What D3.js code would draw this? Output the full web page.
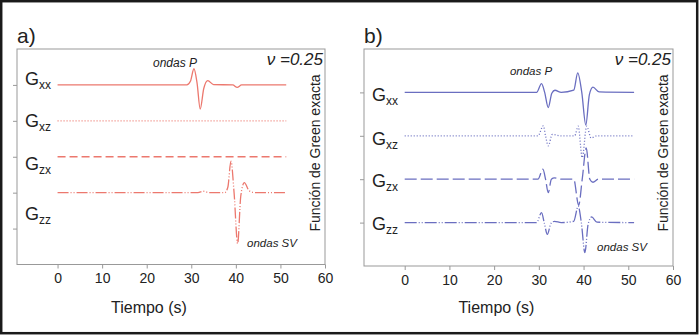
<!DOCTYPE html>
<html>
<head>
<meta charset="utf-8">
<script src="https://cdn.jsdelivr.net/npm/d3@7"></script>
<style>
  body { margin: 0; background: #fff; }
  svg { display: block; font-family: "Liberation Sans", Arial, sans-serif; }
</style>
</head>
<body>
<svg id="chart" width="700" height="336"></svg>
<script>
// time axis (s) and component names
const timeTicks = [0, 10, 20, 30, 40, 50, 60];
const comps = ["xx", "xz", "zx", "zz"];
const nuText = "0.25";

// panel a) – [tiempo, amplitud] key points
const aGxx = [[0,0],[29,0],[29.8,0.1],[30.6,0.45],[31.3,0.05],[32,-0.67],[32.8,-0.1],[33.7,0.12],[35,0.01],[39.3,0],[40.3,-0.07],[41.3,0],[51.3,0]];
const aGxz = [[0,0],[51.3,0]];
const aGzx = [[0,0],[51.3,0]];
const aGzz = [[0,0],[31.5,0],[32.7,0.04],[34,0],[37.5,0],[38.2,0.15],[38.9,0.88],[39.6,0],[40.4,-1.42],[41.1,-0.1],[41.9,0.28],[43,0.05],[44.5,0],[51.3,0]];

// panel b)
const bGxx = [[0,0],[29.5,0],[30.6,0.2],[31.3,0],[32.1,-0.35],[32.9,-0.02],[33.6,0.05],[35,0],[37.8,0.05],[38.7,0.45],[39.6,0],[40.5,-0.75],[41.3,-0.05],[42.1,0.12],[43.5,0.01],[51.3,0]];
const bGxz = [[0,0],[29.8,0],[31,0.23],[31.5,0],[32.1,-0.23],[33,0.03],[35,0],[38,0],[38.8,0.22],[39.7,-0.5],[40.7,0.22],[41.7,-0.05],[43,0],[51.3,0]];
const bGzx = [[0,0],[29.8,0],[30.9,0.23],[31.5,0],[32.1,-0.31],[32.8,0],[33.5,0.03],[35,0],[37.8,0],[38.9,-0.6],[39.7,0],[40.6,0.72],[41.4,0],[42.1,-0.07],[43.3,0],[51.3,0]];
const bGzz = [[0,0],[29.5,0],[30.6,0.23],[31.2,0],[31.9,-0.27],[32.7,-0.02],[33.5,0.03],[35,0],[37.8,0.03],[38.8,0.38],[39.5,0],[40.3,-0.69],[41,-0.05],[41.8,0.13],[43,0.01],[51.3,0]];

var svg = d3.select("#chart");

// outer frame
svg.append("rect")
    .attr("x", 1.2).attr("y", 1.2)
    .attr("width", 696).attr("height", 332)
    .attr("fill", "none").attr("stroke", "#1a1a1a").attr("stroke-width", 2.5);

var panels = [
    {name: "a)", x0: 17, x1: 325, y0: 49, y1: 264.5, nY: 6, color: "#ec786e",
     series: [aGxx, aGxz, aGzx, aGzz],
     dashes: [null, "1,2", "8,4", "11,2,1,2,1,2"],
     gBase: [85, 127, 170, 220],
     pLabel: [175, 67], svLabel: [272, 247], pSize: 12},
    {name: "b)", x0: 364, x1: 673, y0: 49, y1: 266, nY: 5, color: "#6a6ec0",
     series: [bGxx, bGxz, bGzx, bGzz],
     dashes: [null, "1,2", "12,4", "12,2,1,2,1,2"],
     gBase: [101, 145, 187, 230],
     pLabel: [531, 75], svLabel: [622, 251], pSize: 11.5}
];

panels.forEach(function(p) {
    var x = d3.scaleLinear().domain([-9.1, 60]).range([p.x0, p.x1]);
    var y = d3.scaleLinear().domain([p.nY, 0]).range([p.y0, p.y1]);
    var g = svg.append("g");

    // frame
    g.append("rect")
        .attr("x", p.x0).attr("y", p.y0)
        .attr("width", p.x1 - p.x0).attr("height", p.y1 - p.y0)
        .attr("fill", "none").attr("stroke", "#999").attr("stroke-width", 1);

    // bottom axis
    var xAxis = d3.axisBottom(x).tickValues(timeTicks).tickSize(4).tickPadding(5);
    var xg = g.append("g").attr("transform", "translate(0," + p.y1 + ")").call(xAxis);
    xg.select(".domain").remove();
    xg.selectAll("line").attr("stroke", "#999");
    xg.selectAll("text").attr("font-size", 14).attr("fill", "#222")
        .attr("font-family", "Liberation Sans, Arial, sans-serif");

    // left axis ticks only
    var yAxis = d3.axisLeft(y).tickValues(d3.range(1, p.nY)).tickSize(4).tickFormat("");
    var yg = g.append("g").attr("transform", "translate(" + p.x0 + ",0)").call(yAxis);
    yg.select(".domain").remove();
    yg.selectAll("line").attr("stroke", "#999");

    // traces, stacked from the top
    var line = d3.line().curve(d3.curveMonotoneX);
    p.series.forEach(function(s, i) {
        var off = p.nY - 1 - i;
        g.append("path")
            .attr("d", line(s.map(function(d) { return [x(d[0]), y(off + d[1])]; })))
            .attr("fill", "none")
            .attr("stroke", p.color)
            .attr("stroke-width", 1.3)
            .attr("stroke-dasharray", p.dashes[i]);

        var t = g.append("text")
            .attr("x", p.x0 + 8).attr("y", p.gBase[i])
            .attr("fill", "#222").attr("font-size", 18);
        t.append("tspan").text("G");
        t.append("tspan").attr("dy", 4).attr("font-size", 12).text(comps[i]);
    });

    // annotations
    g.append("text").attr("x", p.x0).attr("y", 43)
        .attr("font-size", 21).attr("fill", "#222").text(p.name);

    g.append("text").attr("x", p.x1 - 2).attr("y", 65)
        .attr("text-anchor", "end").attr("font-size", 17).attr("font-style", "italic").attr("fill", "#222")
        .text("\u03bd =" + nuText);

    g.append("text").attr("x", p.pLabel[0]).attr("y", p.pLabel[1])
        .attr("text-anchor", "middle").attr("font-size", p.pSize).attr("font-style", "italic")
        .attr("fill", "#222").text("ondas P");
    g.append("text").attr("x", p.svLabel[0]).attr("y", p.svLabel[1])
        .attr("text-anchor", "middle").attr("font-size", 11.5).attr("font-style", "italic")
        .attr("fill", "#222").text("ondas SV");

    g.append("text")
        .attr("transform", "translate(" + (p.x1 - 5) + ",153) rotate(-90)")
        .attr("text-anchor", "middle").attr("font-size", 14).attr("fill", "#222")
        .text("Función de Green exacta");

    g.append("text")
        .attr("x", x(20.5)).attr("y", 313)
        .attr("text-anchor", "middle").attr("font-size", 16).attr("fill", "#222")
        .text("Tiempo (s)");
});
</script>
</body>
</html>
